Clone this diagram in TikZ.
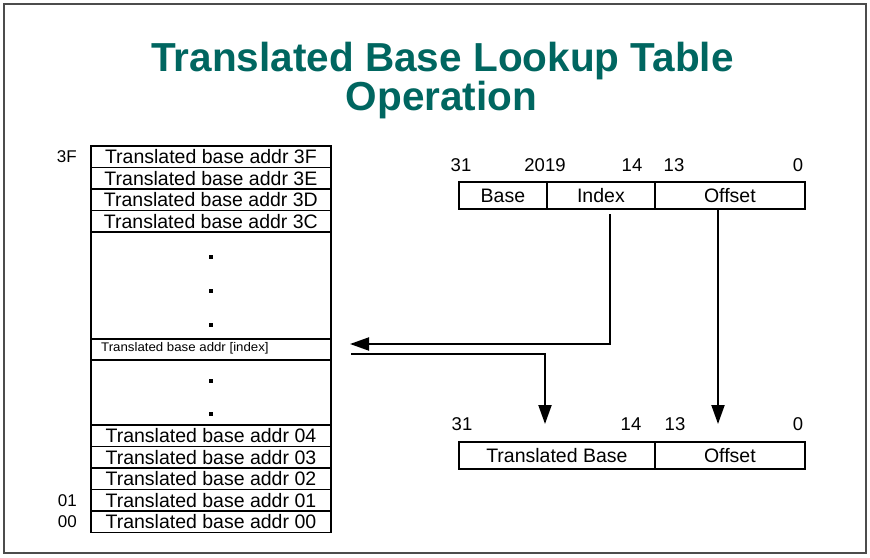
\documentclass[tikz,border=0pt]{standalone}
\usepackage{fontspec}
\setmainfont{Liberation Sans}
\usetikzlibrary{arrows.meta}
\definecolor{titleteal}{RGB}{0,102,96}
\begin{document}
\begin{tikzpicture}[x=1pt,y=-1pt,
  row/.style={draw,line width=1.8pt,minimum width=240pt,minimum height=21.5pt,inner sep=0pt,anchor=north west,font=\fontsize{19.5}{19.5}\selectfont},
  gapbox/.style={draw,line width=1.8pt,minimum width=240pt,inner sep=0pt,anchor=north west},
  regbox/.style={draw,line width=1.8pt,minimum height=27pt,inner sep=0pt,anchor=north west,font=\fontsize{19.5}{19.5}\selectfont},
  bitlbl/.style={anchor=base,inner sep=0pt,font=\fontsize{18.5}{18.5}\selectfont},
  sidelbl/.style={anchor=east,inner sep=0pt,font=\fontsize{17}{17}\selectfont},
  dotmark/.style={fill,rectangle,minimum size=3.2pt,inner sep=0pt},
  arr/.style={line width=2pt,-{Triangle[length=19pt,width=13pt]}},
  titlefont/.style={anchor=base,inner sep=0pt,text=titleteal,font=\fontsize{40.5}{40.5}\selectfont\bfseries}
]
\useasboundingbox (0,0) rectangle (870,557);
\fill[white] (0,0) rectangle (870,557);
\draw[line width=1.4pt,black!70] (4,4) rectangle (866,553);

% title
\node[titlefont] (t1) at (442.5,71.7) {Translated Base Lookup Table};
\node[titlefont] (t2) at (441.5,110) {Operation};

% lookup table
\node[row] (r3F) at (90,145)   {Translated base addr 3F};
\node[row] (r3E) at (90,166.5) {Translated base addr 3E};
\node[row] (r3D) at (90,188)   {Translated base addr 3D};
\node[row] (r3C) at (90,209.5) {Translated base addr 3C};
\node[gapbox,minimum height=107pt] (g1) at (90,231) {};
\node[row,minimum height=21pt,font=\fontsize{12.5}{12.5}\selectfont] (ridx) at (90,338) {};
\node[anchor=west,inner sep=0pt,font=\fontsize{12.5}{12.5}\selectfont,xscale=1.06] (ridxt) at (101,348.5) {Translated base addr [index]};
\node[gapbox,minimum height=65pt] (g2) at (90,359) {};
\node[row] (r04) at (90,424)   {Translated base addr 04};
\node[row] (r03) at (90,445.5) {Translated base addr 03};
\node[row] (r02) at (90,467)   {Translated base addr 02};
\node[row] (r01) at (90,488.5) {Translated base addr 01};
\node[row] (r00) at (90,510)   {Translated base addr 00};

\node[dotmark] (d1) at (211,257) {};
\node[dotmark] (d2) at (211,291) {};
\node[dotmark] (d3) at (211,325) {};
\node[dotmark] (d4) at (211,381) {};
\node[dotmark] (d5) at (211,414) {};

\node[sidelbl] (l3F) at ([xshift=-13pt]r3F.west) {3F};
\node[sidelbl] (l01) at ([xshift=-13pt]r01.west) {01};
\node[sidelbl] (l00) at ([xshift=-13pt]r00.west) {00};

% upper register
\node[regbox,minimum width=88pt]  (base)  at (458,181) {Base};
\node[regbox,minimum width=108pt] (index) at (546,181) {Index};
\node[regbox,minimum width=150pt] (offs)  at (654,181) {Offset};
\node[bitlbl] (u31) at (461,171) {31};
\node[bitlbl] (u2019) at (545,171) {2019};
\node[bitlbl] (u14) at (632,171) {14};
\node[bitlbl] (u13) at (674,171) {13};
\node[bitlbl] (u0) at (798,171) {0};

% lower register
\node[regbox,minimum width=196pt] (tbase) at (458,441) {Translated Base};
\node[regbox,minimum width=150pt] (loffs) at (654,441) {Offset};
\node[bitlbl] (w31) at (462,430) {31};
\node[bitlbl] (w14) at (631,430) {14};
\node[bitlbl] (w13) at (675,430) {13};
\node[bitlbl] (w0) at (798,430) {0};

% connectors
\coordinate (idxsrc) at (610,214);
\coordinate (tipA) at (350,344);
\coordinate (srcB) at (351,354);
\coordinate (tipB) at (545,424);
\coordinate (offsrc) at (718,208);
\coordinate (tipC) at (718,424);
\draw[arr] (idxsrc) |- (tipA);
\draw[arr] (srcB) -| (tipB);
\draw[arr] (offsrc) -- (tipC);
\end{tikzpicture}
\end{document}
